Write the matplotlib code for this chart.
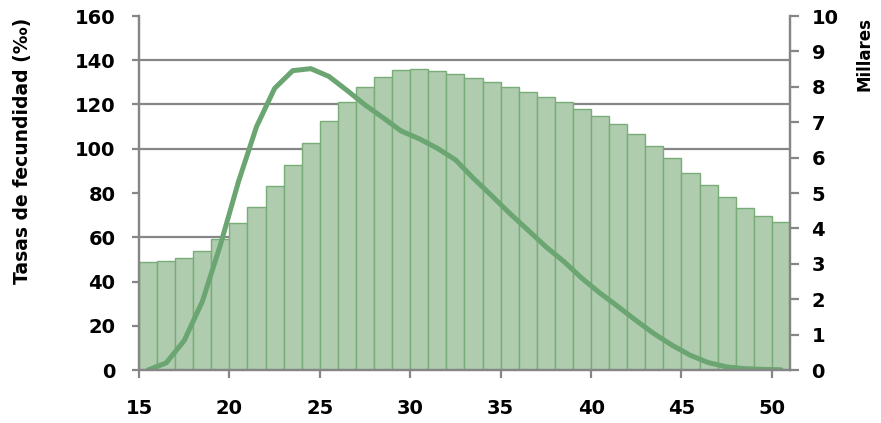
import numpy as np
import matplotlib
matplotlib.use('Agg')
import matplotlib.pyplot as plt

# ages 15..50
ages = np.arange(15, 51)

# women by age (millares) - bars, right axis
mujeres = [3.05, 3.08, 3.15, 3.37, 3.69, 4.14, 4.60, 5.19, 5.79, 6.40,
           7.03, 7.56, 8.00, 8.29, 8.47, 8.49, 8.44, 8.36, 8.24, 8.14,
           8.00, 7.84, 7.70, 7.56, 7.37, 7.17, 6.94, 6.66, 6.34, 5.98,
           5.57, 5.22, 4.88, 4.57, 4.34, 4.17]

# fertility rates (per mille) - line, left axis
tasas = [0.0, 3.2, 13.3, 30.9, 56.5, 85.1, 110.0, 127.3, 135.3, 136.2,
         132.7, 126.4, 119.8, 114.0, 108.0, 104.5, 100.2, 95.0, 86.6, 78.8,
         70.8, 63.3, 55.7, 49.0, 41.4, 34.7, 28.6, 22.3, 16.3, 11.1,
         6.6, 3.3, 1.4, 0.6, 0.3, 0.1]

grey = '#868686'
bar_fill = '#afccae'
bar_edge = '#79ad78'
line_col = '#6aa572'

plt.rcParams['font.family'] = ['DejaVu Sans']
plt.rcParams['font.weight'] = 'bold'

fig = plt.figure(figsize=(8.81, 4.23), dpi=100)
ax = fig.add_axes([139/881, 53/423, 651/881, 354/423])
axb = ax.twinx()

# bars under the line
axb.bar(ages, mujeres, width=1, align='edge', color=bar_fill,
        edgecolor=bar_edge, linewidth=1.0, zorder=2)
axb.set_ylim(0, 10)
axb.set_yticks(range(0, 11))
# horizontal grid every 20 per mille on the bar axis so bars cover it
axb.set_yticks(np.arange(0, 10.01, 1.25), minor=True)
axb.grid(which='minor', axis='y', color=grey, linewidth=1.6)
axb.set_axisbelow(True)
axb.tick_params(which='minor', length=0)

ax.set_zorder(axb.get_zorder() + 1)
ax.patch.set_visible(False)
ax.plot(ages + 0.5, tasas, color=line_col, linewidth=3.6,
        solid_capstyle='round', solid_joinstyle='round')
ax.set_ylim(0, 160)
ax.set_yticks(range(0, 161, 20))
ax.set_xlim(15, 51)
ax.set_xticks(range(15, 51, 5))

for a in (ax, axb):
    for s in a.spines.values():
        s.set_color(grey)
        s.set_linewidth(1.6)
    a.spines['top'].set_visible(False)

ax.tick_params(axis='y', direction='out', length=5, width=1.6, color=grey,
               labelsize=14, pad=12)
ax.tick_params(axis='x', direction='out', length=6, width=1.6, color=grey,
               labelsize=14, pad=15)
axb.tick_params(axis='y', which='major', direction='out', length=6.5,
                width=1.6, color=grey, labelsize=14, pad=9)

ax.set_ylabel('Tasas de fecundidad (‰)', fontsize=13.5, fontweight='bold')
ax.yaxis.set_label_coords(-0.164, 0.619)
axb.set_ylabel('Millares', fontsize=12, fontweight='bold')
axb.yaxis.set_label_coords(1.1, 0.893)

fig.savefig('out.png', dpi=100)
